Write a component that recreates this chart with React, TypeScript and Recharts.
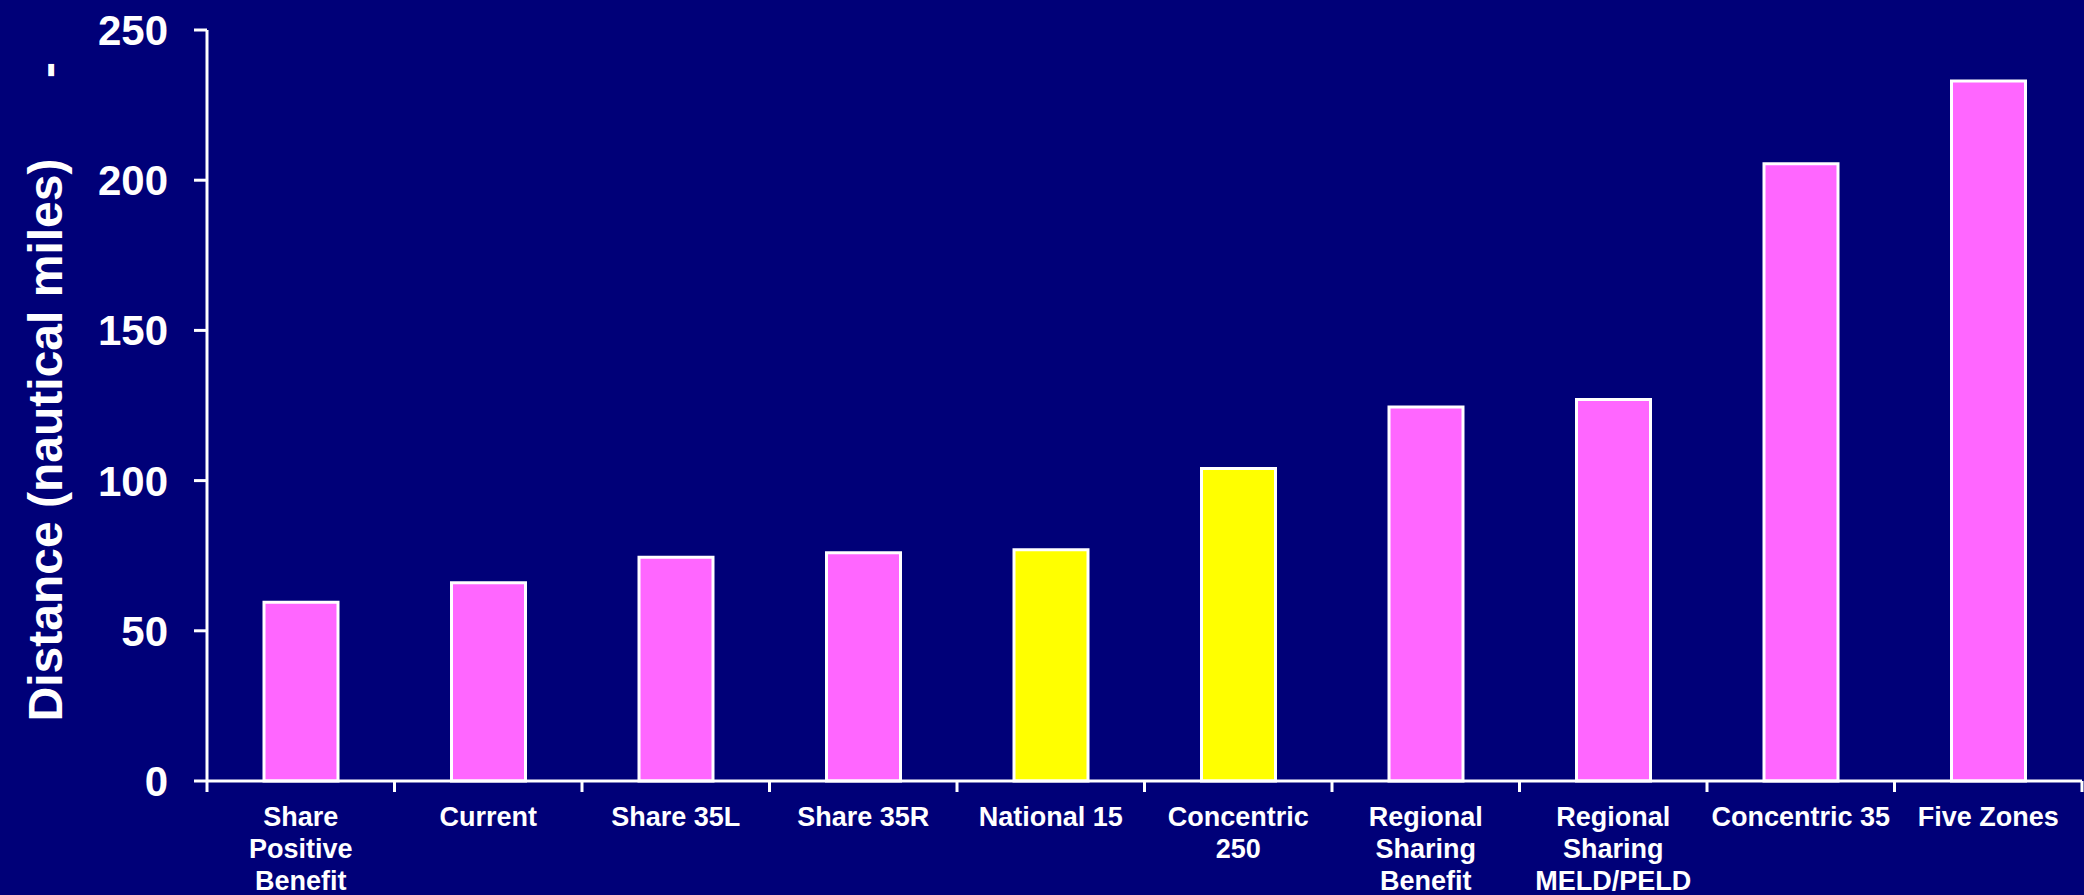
import React from "react";
import { BarChart, Bar, XAxis, YAxis, Cell } from "recharts";

const categories = [
  "Share\nPositive\nBenefit",
  "Current",
  "Share 35L",
  "Share 35R",
  "National 15",
  "Concentric\n250",
  "Regional\nSharing\nBenefit",
  "Regional\nSharing\nMELD/PELD",
  "Concentric 35",
  "Five Zones",
];
const distances = [59.5, 66, 74.5, 76, 77, 104, 124.5, 127, 205.5, 233];
const highlighted = ["National 15", "Concentric\n250"];
const yTicks = [0, 50, 100, 150, 200, 250];

const data = categories.map((name, i) => ({ name, value: distances[i] }));

const W = 2084;
const H = 895;
const LEFT = 207;
const RIGHT = 2;
const STEP = (W - RIGHT - LEFT) / categories.length;
const FONT = "'Liberation Sans', Arial, Helvetica, sans-serif";

const XTick = (props: any) => {
  const { x, y, payload, index } = props;
  const lines = String(payload.value).split("\n");
  return (
    <g>
      <line x1={x - STEP / 2} x2={x - STEP / 2} y1={y} y2={y + 11} stroke="#fff" strokeWidth={3} />
      {index === categories.length - 1 && (
        <line x1={x + STEP / 2} x2={x + STEP / 2} y1={y} y2={y + 11} stroke="#fff" strokeWidth={3} />
      )}
      <text
        x={x}
        y={y + 45}
        textAnchor="middle"
        fill="#fff"
        fontSize={27}
        fontWeight="bold"
        fontFamily={FONT}
      >
        {lines.map((l, i) => (
          <tspan key={i} x={x} dy={i === 0 ? 0 : 32}>
            {l}
          </tspan>
        ))}
      </text>
    </g>
  );
};

const YLabel = () => (
  <g>
    <text
      x={62}
      y={440}
      transform="rotate(-90, 62, 440)"
      textAnchor="middle"
      fill="#fff"
      fontSize={48}
      fontWeight="bold"
      fontFamily={FONT}
    >
      Distance (nautical miles)
    </text>
    <text
      x={64}
      y={70}
      transform="rotate(-90, 64, 70)"
      textAnchor="middle"
      fill="#fff"
      fontSize={48}
      fontWeight="bold"
      fontFamily={FONT}
    >
      -
    </text>
  </g>
);

export default function App() {
  return (
    <div
      style={{
        position: "absolute",
        left: 0,
        top: 0,
        width: W,
        height: H,
        background: "#000078",
      }}
    >
      <BarChart
        width={W}
        height={H}
        data={data}
        margin={{ top: 30, right: RIGHT, left: 0, bottom: 0 }}
      >
        <XAxis
          dataKey="name"
          interval={0}
          height={114}
          tickSize={0}
          tickMargin={0}
          tickLine={false}
          axisLine={{ stroke: "#fff", strokeWidth: 3 }}
          tick={<XTick />}
        />
        <YAxis
          width={LEFT}
          domain={[0, 250]}
          ticks={yTicks}
          interval={0}
          tickSize={13}
          tickMargin={26}
          axisLine={{ stroke: "#fff", strokeWidth: 3 }}
          tickLine={{ stroke: "#fff", strokeWidth: 3 }}
          tick={{ fill: "#fff", fontSize: 42, fontWeight: "bold", fontFamily: FONT }}
          label={{ content: () => <YLabel /> }}
        />
        <Bar dataKey="value" barSize={74} stroke="#fff" strokeWidth={3} isAnimationActive={false}>
          {data.map((d, i) => (
            <Cell key={i} fill={highlighted.includes(d.name) ? "#FFFF00" : "#FF66FF"} />
          ))}
        </Bar>
      </BarChart>
    </div>
  );
}
